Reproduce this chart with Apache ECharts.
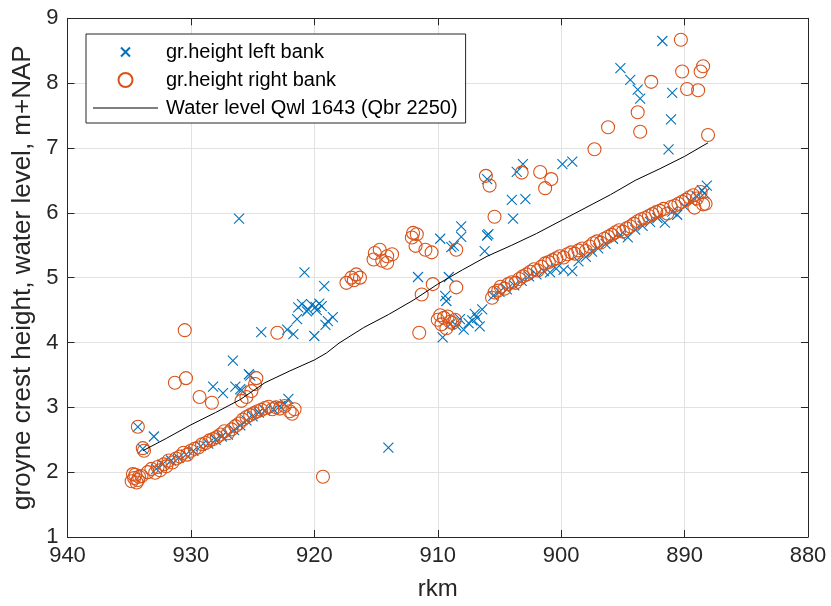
<!DOCTYPE html>
<html>
<head>
<meta charset="utf-8">
<script src="https://cdn.jsdelivr.net/npm/echarts@6/dist/echarts.min.js"></script>
<style>
html,body{margin:0;padding:0;background:#fff;}
#chart{width:831px;height:606px;}
</style>
</head>
<body>
<div id="chart"></div>
<script>
// x tick labels (rkm), y ticks
const xTicks = [940, 930, 920, 910, 900, 890, 880];
const yTicks = [1, 2, 3, 4, 5, 6, 7, 8, 9];

// groyne height left bank [rkm, m+NAP]
const leftBank = [
  [934.3,2.70],[933.9,2.36],[933.0,2.55],[932.8,2.05],[932.3,2.12],[931.6,2.18],[931.0,2.22],[930.4,2.27],
  [929.8,2.33],[929.2,2.40],[928.6,2.44],[928.0,2.50],[927.5,2.55],[927.0,2.58],[926.5,2.65],[926.0,2.72],
  [925.5,2.80],[925.0,2.86],[924.5,2.92],[924.0,2.95],[923.3,2.97],[922.8,3.02],[922.4,3.05],[922.1,3.13],
  [928.2,3.32],[927.4,3.22],[926.4,3.32],[926.0,3.28],[925.3,3.51],[926.6,3.72],[925.9,3.26],[925.2,3.49],
  [926.1,5.91],[924.3,4.16],
  [922.2,4.20],[921.7,4.13],[921.4,4.36],[921.3,4.54],[921.0,4.59],[920.8,5.08],[920.5,4.51],[920.2,4.58],
  [919.9,4.55],[919.6,4.60],[919.4,4.56],[920.0,4.10],[919.2,4.87],[918.9,4.33],[919.1,4.27],[918.5,4.39],
  [920.6,4.48],[919.8,4.50],
  [914.0,2.38],[911.6,5.01],[909.8,5.60],[908.1,5.79],[908.1,5.63],[908.7,5.49],[908.9,5.47],[909.1,5.01],
  [909.4,4.72],[909.3,4.64],[909.6,4.08],
  [908.2,4.36],[907.9,4.20],[907.5,4.30],[907.0,4.44],[906.8,4.38],[906.4,4.51],[906.6,4.25],[907.2,4.34],
  [908.5,4.26],[909.0,4.28],
  [906.0,6.52],[906.0,5.65],[906.2,5.41],[905.9,5.67],[903.9,5.91],[904.0,6.20],[903.6,6.63],[903.1,6.75],
  [902.9,6.21],[899.9,6.75],[899.1,6.79],
  [891.8,8.65],[895.2,8.23],[894.4,8.05],[893.8,7.90],[893.6,7.76],[891.0,7.85],[891.1,7.44],[891.3,6.98],
  [905.5,4.72],[905.0,4.78],[904.4,4.82],[903.8,4.88],[903.2,4.95],[902.6,5.02],[902.0,5.05],[901.4,5.10],
  [900.9,5.08],[900.4,5.14],[899.8,5.12],[899.1,5.10],[898.6,5.25],[898.0,5.32],[897.5,5.40],[897.0,5.45],
  [896.4,5.52],[895.8,5.60],[895.2,5.66],[894.6,5.62],[894.0,5.74],[893.4,5.80],[892.8,5.86],[892.2,5.92],
  [891.6,5.85],[891.0,6.02],[890.6,5.97],[890.0,6.10],[889.5,6.18],[889.0,6.25],[888.6,6.35],[888.2,6.42],
  [888.4,6.30]
];

// groyne height right bank [rkm, m+NAP]
const rightBank = [
  [934.8,1.86],[934.6,1.91],[934.5,1.96],[934.3,1.88],[934.2,1.93],[934.7,1.97],[934.4,1.84],[934.0,1.94],
  [933.5,2.00],[933.2,2.05],[932.9,1.99],[932.7,2.08],[932.5,2.03],[932.2,2.12],[932.0,2.09],[931.8,2.18],
  [931.5,2.15],[931.2,2.21],[930.9,2.24],[930.6,2.30],[930.3,2.27],[930.0,2.33],[929.7,2.36],[929.4,2.38],
  [929.1,2.43],[928.8,2.45],[928.5,2.49],[928.2,2.51],[927.9,2.54],[927.6,2.58],[927.3,2.63],[927.0,2.60],
  [926.7,2.66],[926.4,2.71],[926.1,2.75],[925.8,2.81],[925.5,2.85],[925.2,2.88],[924.9,2.91],[924.6,2.94],
  [924.3,2.96],[924.0,2.99],[923.7,3.01],[923.4,2.97],[923.1,3.00],[922.8,2.98],[922.4,3.02],[922.0,2.94],
  [921.8,2.90],[921.6,2.97],
  [925.9,3.10],[925.5,3.16],[925.1,3.25],[924.8,3.36],[924.7,3.45],
  [934.3,2.70],[933.9,2.37],[933.8,2.33],[930.5,4.19],[931.3,3.38],[930.4,3.45],[929.3,3.16],[928.3,3.07],
  [923.0,4.15],[919.3,1.93],
  [917.4,4.92],[917.0,5.00],[916.6,5.05],[916.3,5.00],[916.8,4.96],[915.2,5.28],[915.1,5.38],[914.7,5.43],
  [914.5,5.26],[914.1,5.33],[914.1,5.23],[913.7,5.36],[912.1,5.62],[912.0,5.69],[911.8,5.49],[911.7,5.67],
  [911.0,5.43],[910.5,5.39],[908.5,5.43],[905.4,5.94],
  [911.3,4.74],[910.4,4.90],[908.5,4.85],[911.5,4.15],
  [910.0,4.35],[909.7,4.28],[909.5,4.38],[909.3,4.22],[909.0,4.32],[908.8,4.30],[908.6,4.35],[909.8,4.42],
  [909.2,4.40],
  [906.1,6.57],[905.8,6.42],[903.2,6.62],[901.7,6.63],[900.8,6.52],[901.3,6.38],
  [897.3,6.98],[896.2,7.32],[893.8,7.55],[893.6,7.25],[892.7,8.02],[890.3,8.67],[890.2,8.18],[889.8,7.91],
  [888.9,7.89],[888.7,8.18],[888.5,8.26],[888.1,7.20],
  [905.6,4.69],[905.4,4.77],[905.1,4.80],[904.9,4.86],[904.6,4.83],[904.3,4.90],[904.0,4.93],[903.7,4.92],
  [903.4,4.98],[903.1,5.02],[902.8,5.05],[902.5,5.09],[902.2,5.13],[901.9,5.11],[901.6,5.17],[901.3,5.22],
  [901.0,5.24],[900.7,5.27],[900.4,5.30],[900.1,5.33],[899.8,5.31],[899.5,5.36],[899.2,5.39],[898.9,5.37],
  [898.6,5.42],[898.3,5.45],[898.0,5.41],[897.7,5.48],[897.4,5.53],[897.1,5.56],[896.8,5.54],[896.5,5.60],
  [896.2,5.63],[895.9,5.66],[895.6,5.70],[895.3,5.73],[895.0,5.71],[894.7,5.76],[894.4,5.79],[894.1,5.83],
  [893.8,5.87],[893.5,5.90],[893.2,5.92],[892.9,5.95],[892.6,5.98],[892.3,6.01],[892.0,6.03],[891.7,6.06],
  [891.4,5.99],[891.1,6.09],[890.8,6.11],[890.5,6.14],[890.2,6.17],[889.9,6.20],[889.6,6.24],[889.3,6.27],
  [889.0,6.22],[888.7,6.32],[888.5,6.13],[889.2,6.08],[888.3,6.14]
];

// water level Qwl 1643 [rkm, m+NAP]
const waterLevel = [
  [933.9,2.33],[932,2.52],[930,2.73],[928,2.92],[926,3.12],[924,3.38],[922,3.56],[920,3.73],[919,3.84],
  [918,3.99],[916,4.23],[914,4.43],[912,4.65],[910,4.90],[908,5.12],[906,5.33],[904,5.50],[902,5.68],
  [900,5.88],[898,6.08],[896,6.28],[894,6.50],[892,6.68],[890,6.87],[888.1,7.08]
];

const seriesNames = ['gr.height left bank', 'gr.height right bank', 'Water level Qwl 1643 (Qbr 2250)'];

const FONT = '"Liberation Sans", Arial, Helvetica, sans-serif';
const AX = '#262626';
const GRIDC = '#e2e2e2';
const BLUE = '#0072BD';
const ORANGE = '#D95319';
const XPATH = 'path://M0,0L10,10M10,0L0,10';
const XLEG = 'path://M0,0M14,14M2.5,2.5L11.5,11.5M11.5,2.5L2.5,11.5';
const LINELEG = 'path://M0,0L65,0L65,1.2L0,1.2Z';

const chart = echarts.init(document.getElementById('chart'), null, {renderer: 'canvas'});

const baseX = {
  type: 'value', inverse: true,
  min: xTicks[xTicks.length - 1], max: xTicks[0], interval: 10
};
const baseY = { type: 'value', min: yTicks[0], max: yTicks[yTicks.length - 1], interval: 1 };

chart.setOption({
  animation: false,
  backgroundColor: '#fff',
  grid: { left: 67.5, right: 23, top: 18.3, bottom: 67.7, containLabel: false },
  legend: {
    orient: 'vertical', left: 86, top: 34,
    padding: [8, 8, 5, 7], itemGap: 8, itemWidth: 65, itemHeight: 14,
    backgroundColor: '#fff', borderColor: AX, borderWidth: 1, borderRadius: 0,
    textStyle: { fontSize: 20, color: '#000', fontFamily: FONT, padding: [0, 0, 0, 3] },
    data: [
      { name: seriesNames[0], icon: XLEG },
      { name: seriesNames[1], icon: 'circle' },
      { name: seriesNames[2], icon: LINELEG, itemStyle: { color: '#000', borderWidth: 0 } }
    ]
  },
  xAxis: [
    Object.assign({}, baseX, {
      position: 'bottom',
      name: 'rkm', nameLocation: 'middle', nameGap: 40,
      nameTextStyle: { fontSize: 24, color: AX, fontFamily: FONT },
      axisLine: { show: true, onZero: false, lineStyle: { color: AX, width: 1 } },
      axisTick: { show: true, inside: true, length: 7, lineStyle: { color: AX } },
      axisLabel: { fontSize: 22, color: AX, fontFamily: FONT, margin: 8 },
      splitLine: { show: true, lineStyle: { color: GRIDC, width: 1 } }
    }),
    Object.assign({}, baseX, {
      position: 'top',
      axisLine: { show: true, onZero: false, lineStyle: { color: AX, width: 1 } },
      axisTick: { show: true, inside: true, length: 7, lineStyle: { color: AX } },
      axisLabel: { show: false },
      splitLine: { show: false }
    })
  ],
  yAxis: [
    Object.assign({}, baseY, {
      position: 'left',
      name: 'groyne crest height, water level, m+NAP', nameLocation: 'middle', nameGap: 32,
      nameTextStyle: { fontSize: 26, color: AX, fontFamily: FONT },
      axisLine: { show: true, onZero: false, lineStyle: { color: AX, width: 1 } },
      axisTick: { show: true, inside: true, length: 7, lineStyle: { color: AX } },
      axisLabel: { fontSize: 22, color: AX, fontFamily: FONT, margin: 9 },
      splitLine: { show: true, lineStyle: { color: GRIDC, width: 1 } }
    }),
    Object.assign({}, baseY, {
      position: 'right',
      axisLine: { show: true, onZero: false, lineStyle: { color: AX, width: 1 } },
      axisTick: { show: true, inside: true, length: 7, lineStyle: { color: AX } },
      axisLabel: { show: false },
      splitLine: { show: false }
    })
  ],
  series: [
    {
      name: seriesNames[0], type: 'scatter', xAxisIndex: 0, yAxisIndex: 0,
      symbol: XPATH, symbolSize: 10,
      itemStyle: { color: 'rgba(0,0,0,0)', borderColor: BLUE, borderWidth: 1.1, opacity: 1 },
      data: leftBank, z: 2
    },
    {
      name: seriesNames[1], type: 'scatter', xAxisIndex: 0, yAxisIndex: 0,
      symbol: 'circle', symbolSize: 13,
      itemStyle: { color: 'rgba(0,0,0,0)', borderColor: ORANGE, borderWidth: 1.1, opacity: 1 },
      data: rightBank, z: 3
    },
    {
      name: seriesNames[2], type: 'line', xAxisIndex: 0, yAxisIndex: 0,
      symbol: 'none', showSymbol: false,
      lineStyle: { color: '#000', width: 1 },
      itemStyle: { color: '#000' },
      data: waterLevel, z: 4
    }
  ]
});
</script>
</body>
</html>
